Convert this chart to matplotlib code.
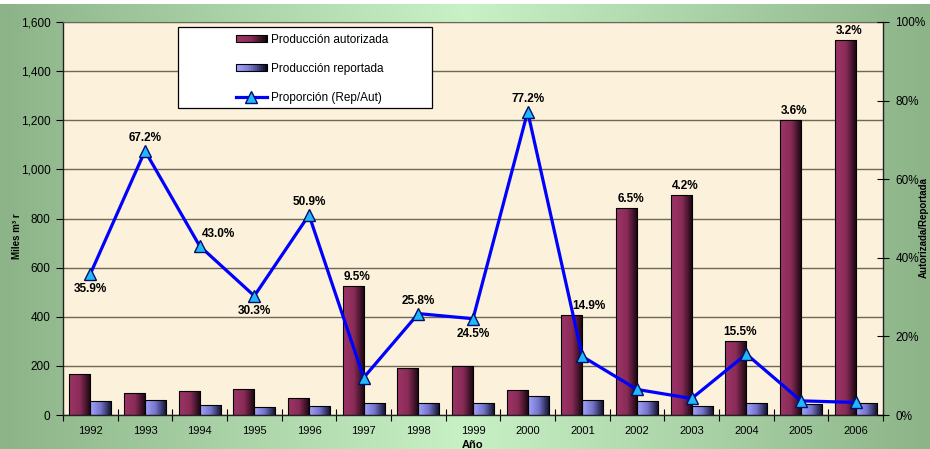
import numpy as np
import matplotlib
matplotlib.use('Agg')
import matplotlib.pyplot as plt
from matplotlib.colors import LinearSegmentedColormap
from matplotlib.patches import Rectangle
from matplotlib.lines import Line2D
from matplotlib.legend_handler import HandlerBase
from matplotlib.ticker import FuncFormatter, FixedLocator

plt.rcParams['font.family'] = ['Liberation Sans', 'DejaVu Sans']

years = ['1992', '1993', '1994', '1995', '1996', '1997', '1998', '1999',
         '2000', '2001', '2002', '2003', '2004', '2005', '2006']
autorizada = [165, 90, 98, 107, 71, 525, 191, 201, 100, 407, 843, 896, 301, 1201, 1527]
reportada = [59, 60, 41, 31, 36, 49, 49, 49, 77, 61, 55, 38, 47, 43, 49]
proporcion = [35.9, 67.2, 43.0, 30.3, 50.9, 9.5, 25.8, 24.5, 77.2, 14.9, 6.5, 4.2, 15.5, 3.6, 3.2]

# where each percentage label sits (hand placed in the original)
label_mode = ['below', 'above', 'right', 'below', 'above', 'bar', 'above', 'below',
              'above', 'bar', 'bar', 'bar', 'bar', 'bar', 'bar']

W, H = 930, 449
cmap_aut = LinearSegmentedColormap.from_list('aut', ['#9c3566', '#8a2b58', '#14060c'])
cmap_rep = LinearSegmentedColormap.from_list('rep', ['#a4a4ff', '#7272c8', '#0c0c26'])
cmap_bg = LinearSegmentedColormap.from_list('bg', ['#8cb488', '#c8f2c6', '#8cb488'])


def gradient_bars(ax, bars, cmap):
    grad = np.linspace(0, 1, 64).reshape(1, -1)
    for p in bars:
        x, w, h = p.get_x(), p.get_width(), p.get_height()
        im = ax.imshow(grad, extent=[x, x + w, 0, h], aspect='auto', cmap=cmap,
                       zorder=2, interpolation='bilinear')
        im.set_clip_path(p)
        p.set_facecolor('none')
        p.set_zorder(3)


class GradHandler(HandlerBase):
    def __init__(self, cmap):
        super().__init__()
        self.cmap = cmap

    def create_artists(self, legend, orig_handle, xdescent, ydescent, width, height, fontsize, trans):
        n = 16
        arts = []
        for i in range(n):
            r = Rectangle((-xdescent + i * width / n, -ydescent), width / n + 0.3, height,
                          facecolor=self.cmap(i / (n - 1)), edgecolor='none', transform=trans)
            arts.append(r)
        arts.append(Rectangle((-xdescent, -ydescent), width, height, facecolor='none',
                              edgecolor='black', lw=0.8, transform=trans))
        return arts


fig = plt.figure(figsize=(W / 100, H / 100), dpi=100)
fig.patch.set_facecolor('white')

bg = fig.add_axes([0, 0, 1, 1 - 4 / H])
bg.imshow(np.linspace(0, 1, 256).reshape(1, -1), aspect='auto', cmap=cmap_bg,
          extent=[0, 1, 0, 1], interpolation='bilinear')
bg.axis('off')

ax = fig.add_axes([63 / W, 1 - 415 / H, 820 / W, 393 / H])
ax.set_facecolor('#fcf1da')

x = np.arange(len(years))
bw = 0.385
b1 = ax.bar(x - bw / 2, autorizada, bw, edgecolor='black', linewidth=0.8)
b2 = ax.bar(x + bw / 2, reportada, bw, edgecolor='black', linewidth=0.8)
gradient_bars(ax, b1, cmap_aut)
gradient_bars(ax, b2, cmap_rep)

ax.set_xlim(-0.5, len(years) - 0.5)
ax.set_ylim(0, 1600)
ax.set_yticks(np.arange(0, 1601, 200))
ax.yaxis.set_major_formatter(FuncFormatter(lambda v, p: f'{int(v):,}'))
ax.grid(axis='y', color='#6e6858', linewidth=1.0)
ax.set_axisbelow(True)

ax.xaxis.set_major_locator(FixedLocator(np.arange(-0.5, len(years), 1.0)))
ax.xaxis.set_major_formatter(FuncFormatter(lambda v, p: ''))
ax.xaxis.set_minor_locator(FixedLocator(x))
ax.set_xticks(x, minor=True)
ax.set_xticklabels(years, minor=True)
ax.tick_params(axis='x', which='major', direction='inout', length=8, width=0.8)
ax.tick_params(axis='x', which='minor', length=0, pad=8, labelsize=8)
ax.tick_params(axis='y', direction='out', length=5, width=0.8, pad=4, labelsize=8.5)

for s in ['left', 'bottom', 'right']:
    ax.spines[s].set_color('#222222')
    ax.spines[s].set_linewidth(1.0)
ax.spines['top'].set_color('#6e6858')

ax2 = ax.twinx()
ax2.set_ylim(0, 100)
ax2.set_yticks(np.arange(0, 101, 20))
ax2.yaxis.set_major_formatter(FuncFormatter(lambda v, p: f'{int(v)}%'))
ax2.tick_params(axis='y', direction='inout', length=8, width=0.8, pad=5, labelsize=8.5)
for s in ax2.spines.values():
    s.set_visible(False)

ax2.plot(x, proporcion, color='#0000ff', linewidth=2.3, marker='^', markersize=9,
         markerfacecolor='#20b8ff', markeredgecolor='#00106a', markeredgewidth=1.0, zorder=4)

for i, v in enumerate(proporcion):
    txt = f'{v:.1f}%'
    mode = label_mode[i]
    kw = dict(textcoords='offset pixels', ha='center', va='center',
              fontsize=8.5, fontweight='bold', zorder=6)
    if mode == 'bar':
        dx = 13 if years[i] == '2001' else 0
        ax2.annotate(txt, (x[i] - bw / 2, autorizada[i] / 16), xytext=(4 + dx, 9), **kw)
    elif mode == 'above':
        ax2.annotate(txt, (x[i], v), xytext=(0, 13), **kw)
    elif mode == 'below':
        ax2.annotate(txt, (x[i], v), xytext=(0, -15), **kw)
    else:
        ax2.annotate(txt, (x[i], v), xytext=(19, 12), **kw)

# legend with its own frame
x0 = (178 - 63) / 820
y0 = (415 - 108) / 393
ax2.add_patch(Rectangle((x0, y0), (432 - 178) / 820, (108 - 27) / 393, transform=ax2.transAxes,
                        facecolor='white', edgecolor='black', linewidth=0.9, zorder=7))
h1 = Rectangle((0, 0), 1, 1)
h2 = Rectangle((0, 0), 1, 1)
h3 = Line2D([], [], color='#0000ff', linewidth=2.3, marker='^', markersize=8,
            markerfacecolor='#20b8ff', markeredgecolor='#00106a')
leg = ax2.legend([h1, h2, h3], ['Producción autorizada', 'Producción reportada', 'Proporción (Rep/Aut)'],
                 handler_map={h1: GradHandler(cmap_aut), h2: GradHandler(cmap_rep)},
                 loc='upper left', bbox_to_anchor=((236 - 63) / 820, (415 - 34) / 393),
                 frameon=False, borderpad=0, borderaxespad=0, fontsize=8.5,
                 handlelength=2.6, handleheight=0.55, handletextpad=0.4, labelspacing=1.45)
leg.set_zorder(8)

fig.text(17 / W, 1 - 236 / H, 'Miles m³ r', rotation=90, ha='center', va='center',
         fontsize=7, fontweight='bold')
fig.text(924 / W, 1 - 228 / H, 'Autorizada/Reportada', rotation=90, ha='center', va='center',
         fontsize=7, fontweight='bold')
fig.text(473 / W, 1 - 444.5 / H, 'Año', ha='center', va='center', fontsize=8, fontweight='bold')

fig.savefig('out.png', dpi=100)
